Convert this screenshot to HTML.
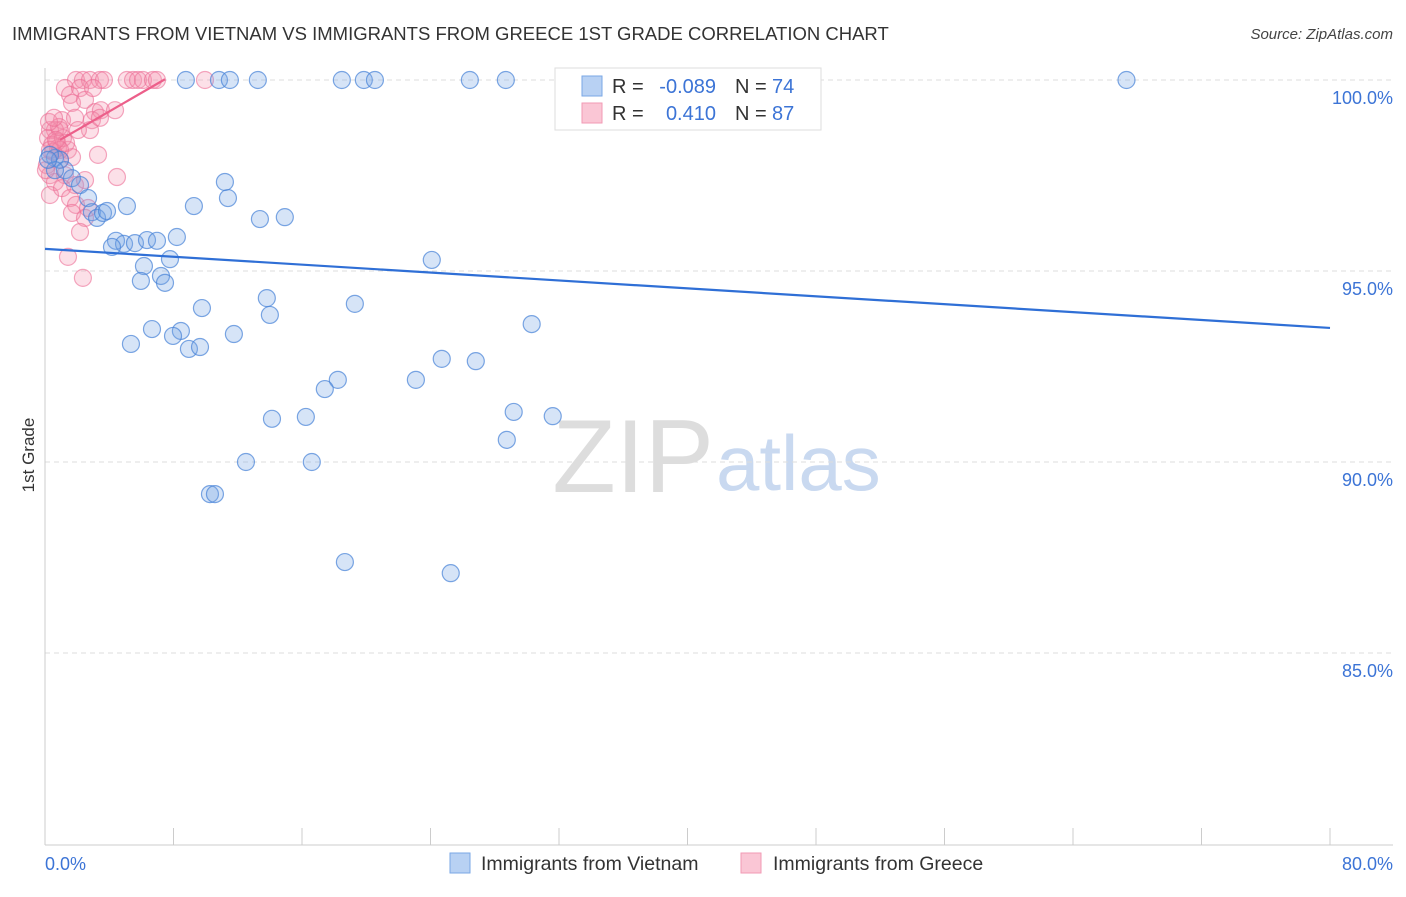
<!DOCTYPE html>
<html><head><meta charset="utf-8"><style>
body{margin:0;background:#fff;font-family:"Liberation Sans",sans-serif;}
svg text{font-family:"Liberation Sans",sans-serif;}
</style></head><body>
<svg id="chart" width="1406" height="892" xmlns="http://www.w3.org/2000/svg">
<text x="12" y="40" font-size="18.5" fill="#333">IMMIGRANTS FROM VIETNAM VS IMMIGRANTS FROM GREECE 1ST GRADE CORRELATION CHART</text>
<text x="1393" y="39" font-size="15" fill="#444" text-anchor="end" font-style="italic">Source: ZipAtlas.com</text>
<text x="714" y="492" font-size="104" text-anchor="end" fill="#ddd" font-family="Liberation Serif">ZIP</text>
<text x="716" y="490" font-size="78" fill="#c9d9f0">atlas</text>
<g id="grid"></g>
<g id="axes"></g>
<g id="pts"></g>
<text transform="translate(34,455) rotate(-90)" font-size="17" fill="#333" text-anchor="middle">1st Grade</text>
<g>
<rect x="555" y="68" width="266" height="62" fill="#fff" stroke="#ddd"/>
<rect x="582" y="76" width="20" height="20" fill="#b8d1f3" stroke="#7aa7e6"/>
<rect x="582" y="103" width="20" height="20" fill="#fac6d5" stroke="#f29ab4"/>
<text x="612" y="93" font-size="20" fill="#333">R = </text><text x="716" y="93" font-size="20" fill="#3c74d6" text-anchor="end">-0.089</text>
<text x="735" y="93" font-size="20" fill="#333">N = </text><text x="772" y="93" font-size="20" fill="#3c74d6">74</text>
<text x="612" y="120" font-size="20" fill="#333">R = </text><text x="716" y="120" font-size="20" fill="#3c74d6" text-anchor="end">0.410</text>
<text x="735" y="120" font-size="20" fill="#333">N = </text><text x="772" y="120" font-size="20" fill="#3c74d6">87</text>
</g>
<g>
<rect x="450" y="853" width="20" height="20" fill="#b8d1f3" stroke="#7aa7e6"/>
<text x="481" y="870" font-size="19.5" fill="#333">Immigrants from Vietnam</text>
<rect x="741" y="853" width="20" height="20" fill="#fac6d5" stroke="#f29ab4"/>
<text x="773" y="870" font-size="19.5" fill="#333">Immigrants from Greece</text>
</g>
</svg>
<script>
const xTicks=[0,8,16,24,32,40,48,56,64,72,80];
const yTicks=[100,95,90,85];
const yTickLabels=["100.0%","95.0%","90.0%","85.0%"];
const xEndLabels=["0.0%","80.0%"];
const vietnamX=[8.77,10.83,11.51,13.25,18.48,19.85,20.54,26.45,28.69,43.19,67.33,0.62,0.93,0.31,1.24,1.68,2.18,2.68,2.92,3.24,3.61,3.86,5.10,9.27,11.39,11.20,13.38,14.93,4.42,4.92,4.17,5.60,6.35,6.97,8.21,6.16,7.78,5.97,7.22,7.47,9.77,13.81,14.0,19.29,24.08,30.30,6.66,8.46,7.97,11.76,5.35,8.96,9.65,24.70,26.82,18.23,23.09,17.42,29.18,31.61,14.13,16.24,28.75,12.51,16.61,10.27,10.58,18.67,25.26,0.62,0.19];
const vietnamY=[100,100,100,100,100,100,100,100,100,100,100,97.96,97.91,98.04,97.64,97.43,97.25,96.91,96.54,96.39,96.52,96.57,96.70,96.70,96.91,97.33,96.36,96.41,95.79,95.71,95.63,95.73,95.81,95.79,95.89,95.13,95.31,94.74,94.87,94.69,94.03,94.29,93.85,94.14,95.29,93.61,93.48,93.43,93.30,93.35,93.09,92.96,93.01,92.70,92.64,92.15,92.15,91.91,91.31,91.20,91.13,91.18,90.58,90.0,90.0,89.16,89.16,87.38,87.09,97.64,97.91];
const greeceX=[1.93,2.36,2.80,3.42,3.67,5.10,5.48,5.79,6.10,6.72,6.97,9.96,1.24,1.56,2.18,1.68,2.49,3.11,3.48,4.36,1.06,1.87,2.92,0.93,0.31,0.62,0.19,0.44,0.81,0.12,0.31,1.43,1.68,3.30,0.93,1.24,0.62,1.87,2.49,4.48,0.31,1.06,1.56,1.93,1.68,2.49,2.68,2.18,1.43,2.36,2.80,0.75,0.50,0.06,1.12,0.87,1.31,0.25,0.56,2.05,3.42,2.99,0.93,0.31,0.68];
const greeceY=[100,100,100,100,100,100,100,100,100,100,100,100,99.79,99.61,99.79,99.40,99.48,99.16,99.21,99.21,98.95,99.01,98.95,98.69,98.69,98.69,98.48,98.30,98.22,97.77,97.51,98.17,97.98,98.04,97.91,97.51,97.33,97.25,97.38,97.46,96.99,97.17,96.91,96.73,96.52,96.39,96.65,96.02,95.37,94.82,98.69,98.38,98.12,97.64,98.48,98.77,98.35,98.90,99.01,98.69,99.01,99.79,98.17,98.17,98.43];
const vietnamTrend=[[0,95.58],[80,93.51]];
const greeceTrend=[[0.93,98.43],[7.47,100.02]];
const NS="http://www.w3.org/2000/svg";
const X=v=>45+v*(1285/80);
const Y=v=>80+(100-v)*38.2;
function mk(tag,attrs,parent){const e=document.createElementNS(NS,tag);for(const k in attrs)e.setAttribute(k,attrs[k]);parent.appendChild(e);return e;}
const grid=document.getElementById('grid'),axes=document.getElementById('axes'),pts=document.getElementById('pts');
yTicks.forEach((t,i)=>{
 const l=mk('line',{x1:45,x2:1393,y1:Y(t),y2:Y(t),stroke:'#ddd','stroke-dasharray':'5,4'},grid);
 
 
 const tx=mk('text',{x:1393,y:Y(t)+24,'font-size':18,fill:'#3c74d6','text-anchor':'end'},grid);
 tx.textContent=yTickLabels[i];
 
 
});
const ax=mk('line',{x1:45,x2:45,y1:68,y2:845,stroke:'#ccc'},axes);


const bx=mk('line',{x1:45,x2:1393,y1:845,y2:845,stroke:'#ccc'},axes);


xTicks.forEach(t=>{
 const l=mk('line',{x1:X(t),x2:X(t),y1:828,y2:845,stroke:'#ccc'},axes);
 
 
});
const xl0=mk('text',{x:45,y:870,'font-size':18,fill:'#3c74d6'},axes);xl0.textContent=xEndLabels[0];


const xl1=mk('text',{x:1393,y:870,'font-size':18,fill:'#3c74d6','text-anchor':'end'},axes);xl1.textContent=xEndLabels[1];


greeceX.forEach((x,i)=>{
 const c=mk('circle',{cx:X(x),cy:Y(greeceY[i]),r:8.5,fill:'rgba(244,143,172,0.28)',stroke:'rgba(236,110,150,0.6)','stroke-width':1.2},pts);
 
 
});
vietnamX.forEach((x,i)=>{
 const c=mk('circle',{cx:X(x),cy:Y(vietnamY[i]),r:8.5,fill:'rgba(120,165,230,0.3)',stroke:'rgba(70,130,215,0.7)','stroke-width':1.2},pts);
 
 
});
const tv=mk('line',{x1:X(vietnamTrend[0][0]),y1:Y(vietnamTrend[0][1]),x2:X(vietnamTrend[1][0]),y2:Y(vietnamTrend[1][1]),stroke:'#2f6fd6','stroke-width':2.2},pts);


const tg=mk('line',{x1:X(greeceTrend[0][0]),y1:Y(greeceTrend[0][1]),x2:X(greeceTrend[1][0]),y2:Y(greeceTrend[1][1]),stroke:'#ec5f8a','stroke-width':2.2},pts);


</script>
</body></html>
